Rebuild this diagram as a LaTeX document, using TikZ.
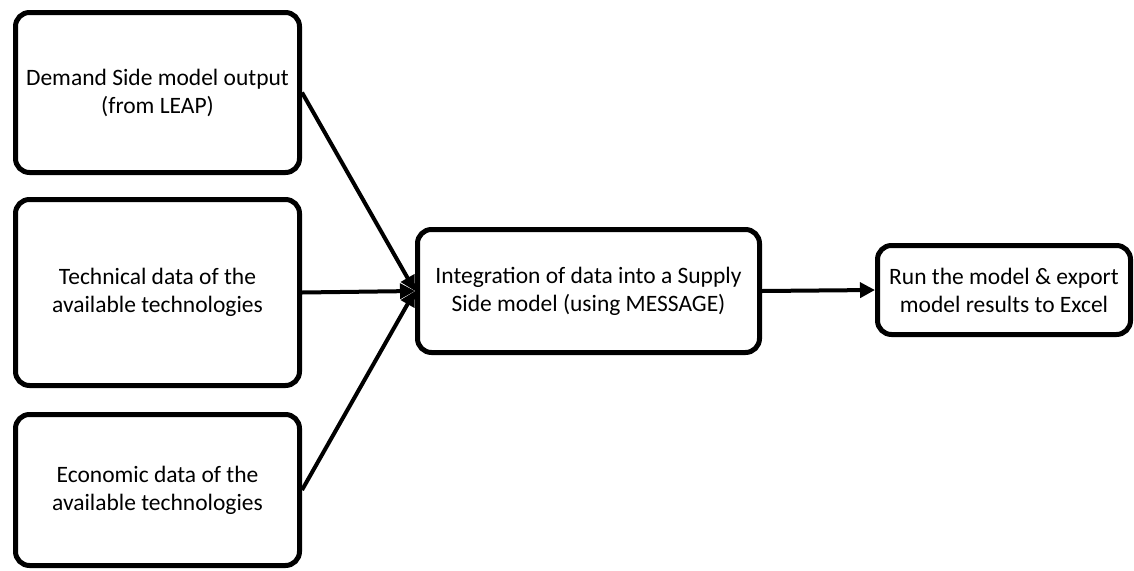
\documentclass[tikz,border=0pt]{standalone}
\usepackage{fontspec}
\setmainfont{Carlito}
\usetikzlibrary{arrows.meta}
\tikzset{
  box/.style = {draw, rounded corners=14pt, line width=5pt,
                align=center, inner sep=0pt,
                font=\fontsize{23.5}{28}\selectfont},
  flow/.style = {line width=4pt, -{Triangle[length=15pt,width=15pt]}}
}

\begin{document}
\begin{tikzpicture}[x=1pt,y=-1pt]
	\def \wl{284}  % width of the input boxes
	\def \xl{157.5}
	
	\useasboundingbox (0,0) rectangle (1134,570);
	
	% Inputs
	\node[box, minimum width=\wl, minimum height=160] (demand) at (\xl,92.5)
		{Demand Side model output\\(from LEAP)};
	\node[box, minimum width=\wl, minimum height=186] (techdata) at (\xl,292.5)
		{Technical data of the\\available technologies};
	\node[box, minimum width=\wl, minimum height=151] (econdata) at (\xl,490)
		{Economic data of the\\available technologies};
	
	% Supply side model
	\node[box, minimum width=342, minimum height=123] (message) at (588.5,291)
		{Integration of data into a Supply\\Side model (using MESSAGE)};
	
	% Results
	\node[box, minimum width=253, minimum height=89] (results) at (1004,290)
		{Run the model \& export\\model results to Excel};
	
	% Arrows
	\draw[flow] (demand.east)   -- (message.west);
	\draw[flow] (techdata.east) -- (message.west);
	\draw[flow] (econdata.east) -- (message.west);
	\draw[flow] (message.east)  -- (results.west);
	
\end{tikzpicture}
\end{document}
